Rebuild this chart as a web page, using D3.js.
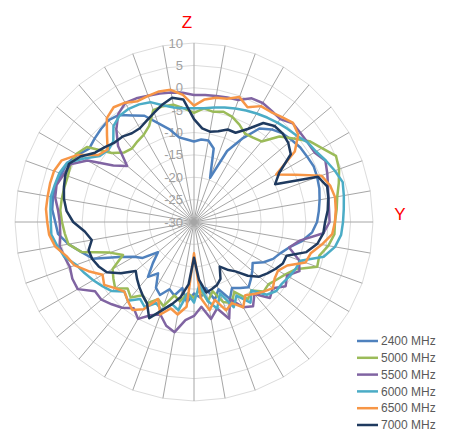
<!DOCTYPE html>
<html>
<head>
<meta charset="utf-8">
<script src="https://cdn.jsdelivr.net/npm/d3@7"></script>
<style>
  body { margin: 0; background: #fff; }
  text { font-family: "Liberation Sans", Arial, sans-serif; }
</style>
</head>
<body>
<svg id="chart" width="457" height="438"></svg>
<script>
// ###############
// data (dB, clockwise from top, 5 deg steps)
// ###############
var angles = d3.range(0, 360, 5);
var spokeAngles = d3.range(0, 360, 10);
var tickValues = [-30, -25, -20, -15, -10, -5, 0, 5, 10];
var seriesNames = ["2400 MHz", "5000 MHz", "5500 MHz", "6000 MHz", "6500 MHz", "7000 MHz"];
var seriesColors = ["#4f81bd", "#9bbb59", "#8064a2", "#4bacc6", "#f79646", "#1f3a5f"];

var mhz2400 = [-12, -11.5, -11.5, -13, -19.5, -12.5, -8.5, -4.5, -3, -2,
               -1.5, -1, -0.8, -0.5, -0.7, -1, -1.5, -2, -2.5, -3.5,
               -5.5, -8, -9.5, -10.5, -12, -14, -13, -12, -11, -12,
               -13, -11, -14, -12, -15, -13, -14, -12, -15, -13,
               -14, -12, -13, -16, -14, -17, -19.5, -16, -14.5, -11.5,
               -6, -4, -1.5, 0.5, 1, 1.8, 2, 2, 1.5, 1.2,
               0, -1.4, -1, -0.6, -0.3, -0.8, -2.5, -3.8, -6.5, -8.5,
               -10.8, -11.5];
var mhz5000 = [-5.6, -4.5, -5, -4.5, -5, -6, -7.2, -7, -6.5, -3,
               -1, 1.5, 3, 5, 4.5, 3.5, 2.5, 2, 1.5, 1.5,
               0.5, -1, -0.7, -5, -6.5, -7.5, -8.3, -8, -10, -9,
               -12, -10, -11, -14, -12, -15, -13, -14, -12, -13,
               -10, -11, -9, -10, -8, -9, -7, -8, -9, -12.5,
               -10, -4, -1.5, -1, -0.5, 0, 0, 0, 0, 0.4,
               0.4, -0.8, -6, -8, -8.5, -8, -7.5, -6.3, -3.4, -3.2,
               -3.4, -4.5];
var mhz5500 = [-1.6, -1.5, -1.4, -1.2, -1, 0.5, 0.7, 0.3, 0, 1.2,
               1, 1, 1.1, 2.4, 1.7, 1, 0.5, 0.3, 0.3, -1,
               -6, -8, -5, -4, -6, -5, -7, -6, -9, -7,
               -8, -11, -7, -10, -8, -11, -9, -8, -5, -6,
               -8, -7, -5, -6.5, -5, -4, -3, -3, 0, 0,
               -0.5, 0, 0.5, 0, 0, 0.5, 1.5, 1.8, 1, 0.5,
               -2.5, -8, -10.5, -6, -3, -0.5, 0.7, 0.5, 0, -0.3,
               -0.6, -1];
var mhz6000 = [-4.6, -4.5, -4, -3.5, -3, -2.5, -2, -1.5, -1, -0.5,
               0, 1, 1.5, 2.5, 3.5, 4.4, 4, 3.6, 3.3, 3,
               2, 0, -4.7, -5, -5.5, -6, -6, -7, -10, -8,
               -11, -9, -13, -10, -12, -16, -12, -14, -10, -11,
               -9, -10, -8, -9, -7, -8, -6, -5, -4, -3,
               -2, 0, 1, 2, 2, 2.2, 2.5, 2.2, 2, 1.3,
               -1.6, -4.3, -5, -4.5, -2, -1, -0.8, -1, -1.5, -3,
               -4, -4.5];
var mhz6500 = [-4, -2.5, -1.8, -1.5, -0.3, -1.7, -0.1, 0, 0.6, 1.3,
               0.4, -2.5, -8.8, -5, 0.3, 1.5, 2, 1.8, 1.5, 1,
               -1, -3, -3.5, -7, -8.3, -8, -7, -8, -9, -10,
               -8, -10, -9, -12, -10, -13, -23, -11, -9, -10,
               -8, -11, -7.5, -6, -7, -8, -7, -5.5, -6.4, -4,
               -1.6, -0.5, 1.5, 2.5, 2.8, 3.2, 3.2, 3.3, 3.3, 2.6,
               0, -3.9, -4.8, -2.5, 0.3, 1.3, 0.8, -0.2, 0, 0.2,
               0, -1.5];
var mhz7000 = [-7, -9, -9.5, -9, -8, -8, -6, -3, -2, -2,
               -2.5, -3.6, -8, -10, -0.5, 0.8, 0.5, 0, -0.7, -1,
               -2, -4, -8, -8.1, -9, -10, -11, -13, -15.6, -17,
               -18.5, -16, -15, -14.5, -14, -17, -22, -16, -13, -11,
               -9, -6.3, -9, -10, -11, -12, -13, -10, -7.5, -6.5,
               -5.8, -5.6, -6.8, -5.5, -3, -1.4, -0.5, 0.1, 0.6, 0.8,
               -0.7, -3, -4, -4.9, -5.1, -5.8, -5.8, -5, -4, -2.8,
               -1.8, -2.5];

var seriesValues = [mhz2400, mhz5000, mhz5500, mhz6000, mhz6500, mhz7000];

// ###############
// layout
// ###############
var cx = 194, cy = 222, R = 179;

var svg = d3.select("#chart");
var g = svg.append("g").attr("transform", "translate(" + cx + "," + cy + ")");

var rScale = d3.scaleLinear().domain([-30, 10]).range([0, R]);
var aScale = d3.scaleLinear().domain([0, 360]).range([0, 2 * Math.PI]);

// ring gridlines (polygons like excel radar)
var ringLine = d3.lineRadial()
    .angle(function(d) { return aScale(d); })
    .curve(d3.curveLinearClosed);

g.append("g").attr("class", "rings")
  .selectAll("path")
  .data(tickValues.slice(1))
  .enter()
  .append("path")
    .attr("d", function(v) { return ringLine.radius(rScale(v))(spokeAngles); })
    .attr("fill", "none")
    .attr("stroke", "#dcdcdc")
    .attr("stroke-width", 1);

// spokes
g.append("g").attr("class", "spokes")
  .selectAll("line")
  .data(spokeAngles)
  .enter()
  .append("line")
    .attr("x1", 0).attr("y1", 0)
    .attr("x2", function(d) { return R * Math.sin(aScale(d)); })
    .attr("y2", function(d) { return -R * Math.cos(aScale(d)); })
    .attr("stroke", "#a6a6a6")
    .attr("stroke-width", 1);

// value labels along the vertical spoke
g.append("g").attr("class", "ticks")
  .selectAll("text")
  .data(tickValues)
  .enter()
  .append("text")
    .attr("x", -11)
    .attr("y", function(v) { return -rScale(v); })
    .attr("dy", "0.35em")
    .attr("text-anchor", "end")
    .attr("font-size", 13)
    .attr("fill", "#a0a0a0")
    .text(function(v) { return v; });

// series
var seriesLine = d3.lineRadial()
    .angle(function(d, i) { return aScale(angles[i]); })
    .radius(function(d) { return rScale(d); })
    .curve(d3.curveLinearClosed);

g.append("g").attr("class", "series")
  .selectAll("path")
  .data(seriesValues)
  .enter()
  .append("path")
    .attr("d", seriesLine)
    .attr("fill", "none")
    .attr("stroke", function(d, i) { return seriesColors[i]; })
    .attr("stroke-width", 2.5)
    .attr("stroke-linejoin", "round");

// axis annotations
svg.append("text").attr("x", 187).attr("y", 28)
  .attr("text-anchor", "middle").attr("font-size", 17).attr("fill", "#ff0000").text("Z");
svg.append("text").attr("x", 400).attr("y", 220)
  .attr("text-anchor", "middle").attr("font-size", 17).attr("fill", "#ff0000").text("Y");

// legend
var legend = svg.append("g").attr("class", "legend")
  .selectAll("g")
  .data(seriesNames)
  .enter()
  .append("g")
    .attr("transform", function(d, i) { return "translate(357," + (341 + i * 16.8) + ")"; });

legend.append("line")
  .attr("x1", 0).attr("x2", 21)
  .attr("stroke", function(d, i) { return seriesColors[i]; })
  .attr("stroke-width", 2.5);

legend.append("text")
  .attr("x", 24).attr("dy", "0.35em")
  .attr("font-size", 12)
  .attr("fill", "#595959")
  .text(function(d) { return d; });
</script>
</body>
</html>
